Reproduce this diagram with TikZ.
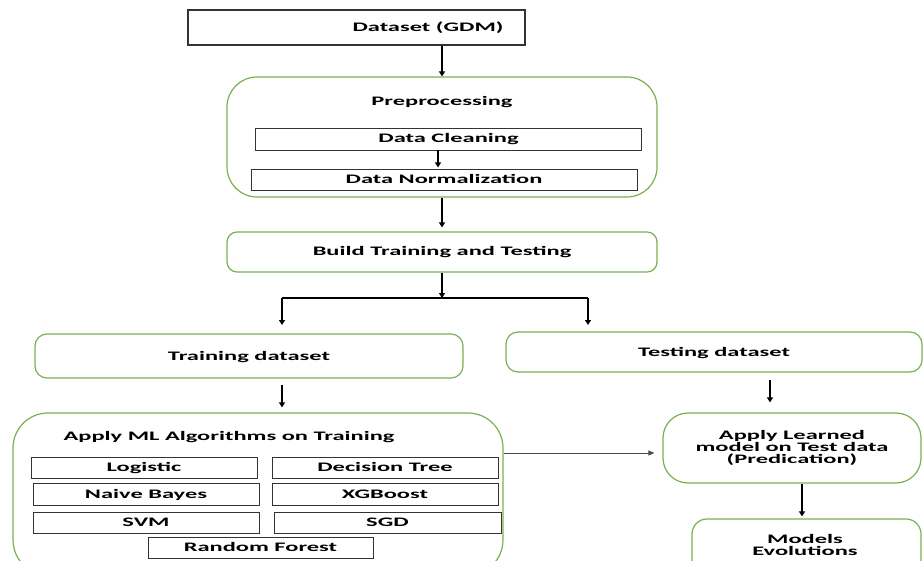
\documentclass[tikz,border=0pt]{standalone}
\usepackage{fontspec}
\setmainfont{Carlito}[FakeStretch=1.88]
\usetikzlibrary{arrows.meta,calc}
\definecolor{grn}{RGB}{120,178,80}
\tikzset{
  x=1pt,y=-1pt,
  txt/.style={font=\fontsize{13}{12}\selectfont\bfseries, align=center, inner sep=0pt},
  one/.style={text height=9pt, text depth=1pt},
  sbox/.style={draw=black!80, line width=0.9pt, inner sep=0pt, txt, one},
  gbox/.style={draw=grn, line width=1.2pt, inner sep=0pt, txt},
  arr/.style={line width=1.1pt, -{Triangle[length=5pt,width=6pt]}},
}
\begin{document}
\begin{tikzpicture}
\useasboundingbox (0,0) rectangle (923,561);
\clip (0,0) rectangle (923,561);
\fill[white] (0,0) rectangle (923,561);

% top
\node[sbox, line width=1.4pt, minimum width=337pt, minimum height=35pt] (ds) at (356.5,27.5) {\hspace*{143pt}Dataset (GDM)};

% preprocessing
\node[gbox, rounded corners=30pt, minimum width=430pt, minimum height=120pt] (pre) at (442,137) {};
\node[txt, one] (pret) at (442,102) {Preprocessing};
\node[sbox, minimum width=386pt, minimum height=22pt] (clean) at (448.5,139) {Data Cleaning};
\node[sbox, minimum width=386pt, minimum height=21pt] (norm) at (444,179.5) {Data Normalization};

% build
\node[gbox, one, rounded corners=10pt, minimum width=430pt, minimum height=40pt] (build) at (442,252) {Build Training and Testing};

% split
\coordinate (split) at (442,298);
\coordinate (sl) at (282,298);
\coordinate (sr) at (588,298);
\coordinate (slb) at (282,325);
\coordinate (srb) at (588,325);

\node[gbox, one, rounded corners=12pt, minimum width=428pt, minimum height=44pt] (train) at (249,356) {Training dataset};
\node[gbox, one, rounded corners=12pt, minimum width=416pt, minimum height=40pt] (test) at (714,352) {Testing dataset};

% apply ML
\node[gbox, rounded corners=35pt, minimum width=490pt, minimum height=162pt] (ml) at (258,494) {};
\node[txt, one] (mlt) at (229,436) {Apply ML Algorithms on Training};
\node[sbox, minimum width=226pt, minimum height=21pt] (lr) at (144,467.5) {Logistic};
\node[sbox, minimum width=226pt, minimum height=21pt] (dt) at (385,467.5) {Decision Tree};
\node[sbox, minimum width=226pt, minimum height=22pt] (nb) at (146,494) {Naive Bayes};
\node[sbox, minimum width=226pt, minimum height=22pt] (xg) at (385,494) {XGBoost};
\node[sbox, minimum width=226pt, minimum height=21pt] (svm) at (146,522.5) {SVM};
\node[sbox, minimum width=227pt, minimum height=21pt] (sgd) at (387.5,522.5) {SGD};
\node[sbox, minimum width=225pt, minimum height=21pt] (rf) at (260.5,547.5) {Random Forest};

% right side
\node[gbox, rounded corners=25pt, minimum width=258pt, minimum height=70pt] (al) at (792,448) {Apply Learned\\model on Test data\\(Predication)};
\node[gbox, rounded corners=15pt, minimum width=229pt, minimum height=56pt] (mod) at (806.5,547) {};
\node[txt] (modt) at (805,545) {Models\\Evolutions};

% connectors
\draw[arr] (ds.south -| pre.north) -- (pre.north);
\draw[arr] ($(clean.south)+(-10.5,0)$) -- ($(clean.south)+(-10.5,17)$);
\draw[arr] (pre.south) -- ($(build.north)+(0,-4)$);
\draw[arr] (build.south) -- (split);
\draw[line width=1.1pt] (sl) -- (sr);
\draw[arr] (sl) -- (slb);
\draw[arr] (sr) -- (srb);
\draw[arr] ($(train.south -| sl)+(0,6)$) -- ($(ml.north -| sl)+(0,-5)$);
\draw[arr] ($(test.south -| al.north)+(-22,7)$) -- ($(al.north)+(-22,-10)$);
\draw[line width=0.9pt, black!70, -{Triangle[length=6pt,width=5pt]}] ($(ml.east)+(0,-41)$) -- ($(al.west)+(-8,5)$);
\draw[arr] ($(al.south)+(10,0)$) -- ($(mod.north)+(-4.5,-2)$);
\end{tikzpicture}
\end{document}
